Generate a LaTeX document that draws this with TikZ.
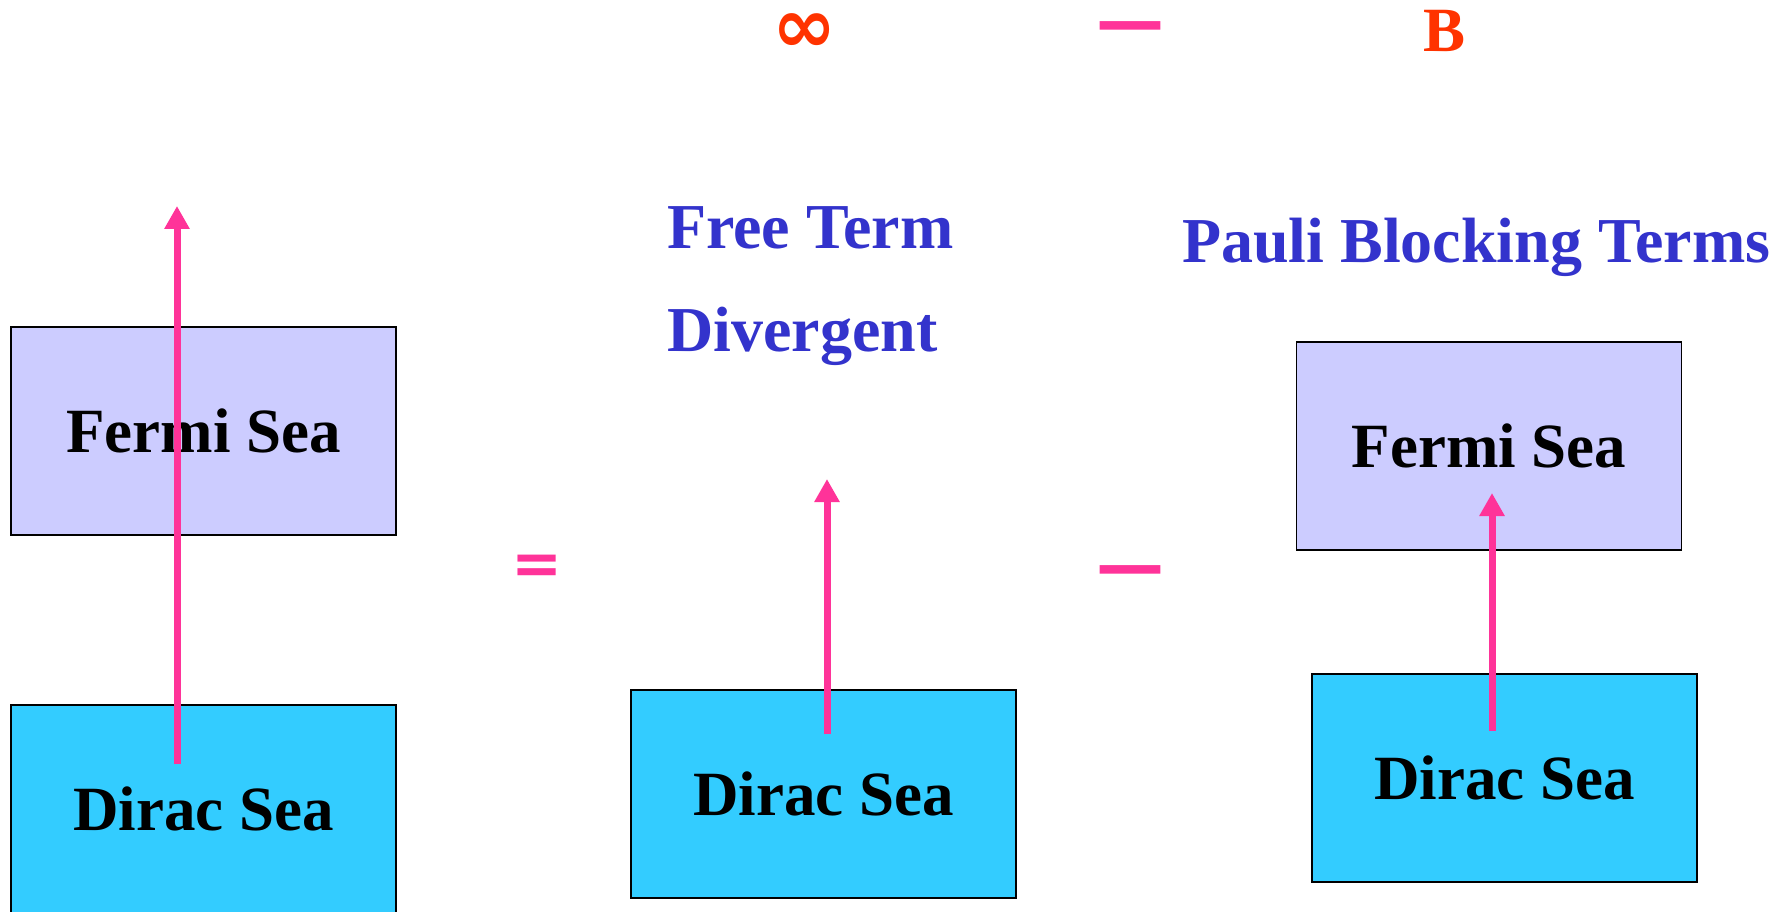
\documentclass[tikz,border=0pt]{standalone}
\usepackage{fontspec}
\setmainfont{Liberation Serif}
\newfontfamily\symfont{DejaVu Sans}
\usetikzlibrary{arrows.meta}
\definecolor{fermic}{HTML}{CCCCFF}
\definecolor{diracc}{HTML}{33CCFF}
\definecolor{pinkc}{HTML}{FF3399}
\definecolor{bluec}{HTML}{3333CC}
\definecolor{redc}{HTML}{FF3300}
\begin{document}
\begin{tikzpicture}[x=1pt,y=-1pt,
 seabox/.style={draw=black, line width=1.5pt, minimum width=385pt, minimum height=208pt, inner sep=0pt, font=\fontsize{63}{70}\selectfont\bfseries, text=black},
 fermibox/.style={seabox, fill=fermic},
 diracbox/.style={seabox, fill=diracc},
 termlabel/.style={font=\fontsize{64}{70}\selectfont\bfseries, text=bluec, inner sep=0pt, anchor=base west},
 opsign/.style={text=pinkc, inner sep=0pt, anchor=center},
 toprow/.style={font=\fontsize{63}{70}\selectfont\bfseries, text=redc, inner sep=0pt},
 excite/.style={draw=pinkc, line width=7pt, -{Triangle[width=24pt,length=23pt]}}]
\fill[white] (0,0) rectangle (1789,912);
\useasboundingbox (0,0) rectangle (1789,912);

% top row
\node[toprow, anchor=center, font=\fontsize{77}{77}\selectfont\symfont\bfseries] (inf) at (804.5,33) {∞};
\node[opsign, font=\fontsize{68}{68}\selectfont\symfont\bfseries] (topminus) at (1130.5,33) {—};
\node[toprow, anchor=base] (bterm) at (1444,52) {B};

% labels
\node[termlabel] (free) at (667,249) {Free Term};
\node[termlabel] (div) at (667,351) {Divergent};
\node[termlabel] (pauli) at (1182,262) {Pauli Blocking Terms};

% left column
\node[fermibox] (lf) at (203.5,431) {Fermi Sea};
\node[diracbox] (ld) at (203.5,809) {Dirac Sea};
\coordinate (l0) at (177,764);
\coordinate (l1) at (177,206);
\draw[excite] (l0) -- (l1);

\node[opsign, font=\fontsize{61}{61}\selectfont\symfont\bfseries] (eq) at (537,570) {=};

% middle column
\node[diracbox] (md) at (823.5,794) {Dirac Sea};
\coordinate (m0) at (827,734);
\coordinate (m1) at (827,479);
\draw[excite] (m0) -- (m1);

\node[opsign, font=\fontsize{68}{68}\selectfont\symfont\bfseries] (midminus) at (1130.5,577.5) {—};

% right column
\node[fermibox] (rf) at (1489,446) {Fermi Sea};
\node[diracbox] (rd) at (1504.5,778) {Dirac Sea};
\coordinate (r0) at (1492,731);
\coordinate (r1) at (1492,493);
\draw[excite] (r0) -- (r1);
\end{tikzpicture}
\end{document}
